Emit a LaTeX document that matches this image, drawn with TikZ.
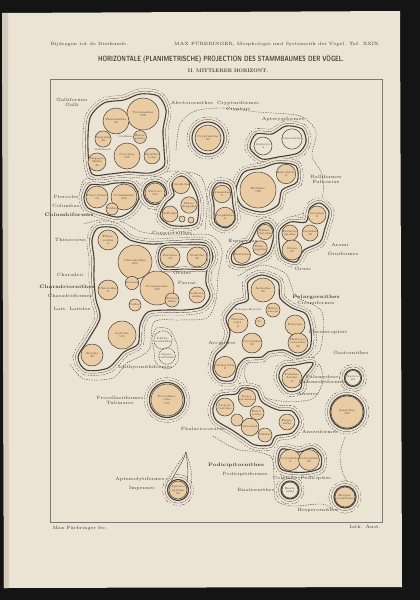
\documentclass[tikz,border=0pt]{standalone}
\usepackage{fontspec}
\usepackage{graphicx}
\usepackage{xcolor}
\usetikzlibrary{positioning}

\definecolor{paper}{RGB}{235,228,212}
\definecolor{falz}{RGB}{212,203,188}
\definecolor{sand}{RGB}{233,204,163}
\definecolor{ink}{RGB}{70,62,55}

% Umriss einer Gruppe: dicke Linie, feine Linie, punktierte Linie
\newcommand{\umriss}[1]{%
  \draw[ink, line width=10.4pt, dash pattern=on 1.2pt off 1.2pt] #1;
  \draw[paper, line width=9.6pt] #1;
  \draw[ink, line width=5.4pt] #1;
  \draw[paper, line width=4.8pt] #1;
  \fill[paper] #1;
  \draw[ink, line width=1.1pt] #1;}
% innere Untergruppe
\newcommand{\teil}[1]{%
  \draw[ink, line width=4.6pt] #1;
  \draw[paper, line width=4pt] #1;
  \draw[ink, line width=0.9pt] #1;}

\begin{document}
\begin{tikzpicture}[x=1pt, y=-1pt,
  fam/.style={circle, draw=ink, line width=0.5pt, fill=sand, inner sep=0pt, align=center, text=ink, font=\fontsize{2.9}{3.2}\selectfont},
  fossil/.style={fam, fill=paper},
  lost/.style={fam, fill=none, dash pattern=on 0.8pt off 0.8pt},
  lbl/.style={text=ink, inner sep=0.3pt, font=\fontsize{4.6}{5}\selectfont},
  klein/.style={text=ink, inner sep=0.2pt, font=\fontsize{2.8}{3}\selectfont},
  grp/.style={lbl, font=\fontsize{4.9}{5.5}\selectfont\bfseries},
  ornith/.style={draw=ink, line width=0.4pt, dash pattern=on 1.3pt off 1.2pt}]
  \useasboundingbox (0,0) rectangle (420,600);

  % Blatt
  \fill[black!92] (0,0) rectangle (420,600);
  \fill[paper] (2,13) -- (400,11) -- (402,587) -- (4,588) -- cycle;
  \fill[falz] (2,13) -- (8,13) -- (9,588) -- (4,588) -- cycle;
  \draw[ink!70, line width=0.5pt] (50,79) rectangle (382,522);

  % Kopf
  \node[lbl, anchor=west] (beitr) at (50,44) {Bijdragen tot de Dierkunde.};
  \node[lbl, anchor=east] (autor) at (381,44) {MAX FÜRBRINGER, Morphologie und Systematik der Vögel. Taf. XXIX.};
  \node[text=ink, inner sep=0pt] (titel) at (221,59) {\resizebox{246pt}{6.4pt}{\sffamily\bfseries HORIZONTALE (PLANIMETRISCHE) PROJECTION DES STAMMBAUMES DER VÖGEL.}};
  \node[text=ink, inner sep=0pt] (untertitel) at (228,71) {\resizebox{80pt}{3.6pt}{\bfseries II. MITTLERER HORIZONT.}};

  % Ornithes-Grenzen
  \draw[ornith] plot[smooth] coordinates {(176,150) (180,124) (195,111) (222,108) (258,112) (300,116) (316,132) (312,156) (322,174) (322,198) (306,212) (286,218)};
  \draw[ornith] plot[smooth] coordinates {(80,200) (84,180) (110,175) (150,176) (172,171) (200,176) (207,200) (205,230)};
  \draw[ornith] plot[smooth] coordinates {(84,224) (100,220) (122,222) (142,232) (172,235) (210,235) (222,250) (218,276) (216,300) (207,318) (180,320) (154,322) (149,350) (127,363) (113,378) (84,379) (70,364)};
  \draw[ornith] plot[smooth] coordinates {(238,276) (262,265) (286,274) (296,296) (322,312) (320,350) (304,360)};
  \draw[ornith] plot[smooth cycle] coordinates {(244,372) (256,357) (286,355) (316,361) (323,380) (312,399) (280,401) (255,393)};
  \draw[ornith] plot[smooth] coordinates {(213,436) (236,449) (258,452) (272,458) (274,480) (276,500) (292,506) (322,504) (334,510)};
  \draw[ornith] plot[smooth] coordinates {(345,437) (340,455) (343,474) (350,485)};

  % Galliformes
  \umriss{plot[smooth cycle] coordinates {(88,150) (90,118) (104,103) (124,100) (140,94) (158,96) (166,110) (163,130) (164,150) (164,166) (150,173) (128,172) (110,174) (92,174)}}
  \node[fam, minimum size=32pt] (tetraon) at (143,114) {Tetraonidae\\178};
  \node[fam, minimum size=26pt] (phasian) at (116,121) {Phasianidae\\91};
  \node[fam, minimum size=16pt] (numida) at (103,139) {Numidae\\35};
  \node[fam, minimum size=12pt] (meleagr) at (140,137) {Melea-\\gridae};
  \node[fam, minimum size=26pt] (crax) at (127,156) {Cracidae\\105};
  \node[fam, minimum size=14pt] (opistho) at (152,156) {Opistho-\\comi};
  \node[fam, minimum size=18pt] (megapod) at (97,162) {Megapo-\\diidae\\30};
  \node[klein] (gallinae) at (126,137) {Gallinae};
  \node[klein] (gallinacei) at (103,150) {Gallinacei};

  % Crypturi, Apteryges
  \umriss{(208,138) circle[radius=16]}
  \node[fam, minimum size=26pt] (crypt) at (208,138) {Crypturidae\\60};
  \umriss{plot[smooth cycle] coordinates {(250,148) (256,134) (272,134) (286,126) (302,129) (306,142) (298,153) (278,157) (262,159)}}
  \node[fossil, minimum size=18pt] (apteryx) at (263,146) {Apteryx\\4};
  \node[fossil, minimum size=20pt] (dinornis) at (292,139) {Dinornithes};

  % Ralliformes
  \umriss{plot[smooth cycle] coordinates {(236,190) (244,172) (262,168) (278,163) (296,166) (297,182) (282,190) (278,205) (262,212) (242,206)}}
  \node[fam, minimum size=36pt] (rallid) at (258,190) {Rallidae\\188};
  \node[fam, minimum size=16pt] (heliorn) at (286,174) {Heliornith.\\4};
  \umriss{plot[smooth cycle] coordinates {(212,192) (218,183) (230,186) (233,205) (235,220) (226,228) (215,222) (214,205)}}
  \node[fam, minimum size=16pt] (aramid) at (222,194) {Aramidae\\2};
  \node[fam, minimum size=16pt] (psophia) at (225,217) {Psophiidae\\6};

  % Grues
  \umriss{plot[smooth cycle] coordinates {(232,254) (242,244) (250,242) (259,226) (268,223) (274,232) (269,252) (256,260) (244,265) (233,263)}}
  \node[fam, minimum size=14pt] (rhino) at (265,232) {Rhino-\\chetidae};
  \node[fam, minimum size=14pt] (euryp) at (260,248) {Eury-\\pygidae};
  \node[fam, minimum size=16pt] (mesit) at (242,255) {Mesitidae};
  \umriss{plot[smooth cycle] coordinates {(279,232) (290,222) (306,222) (310,208) (320,203) (329,212) (325,228) (320,242) (304,250) (296,262) (282,256)}}
  \node[fam, minimum size=16pt] (dichol) at (290,233) {Dicholo-\\phidae};
  \node[fam, minimum size=16pt] (grus) at (310,233) {Gruidae\\16};
  \node[fam, minimum size=20pt] (otis) at (292,250) {Grues\\20};
  \node[fam, minimum size=18pt] (cariama) at (317,215) {Cariama\\2};

  % Columbae, Psittaci, Coccyges
  \umriss{plot[smooth cycle] coordinates {(84,197) (90,185) (104,185) (116,183) (132,184) (139,197) (132,210) (119,217) (104,214) (88,208)}}
  \node[fam, minimum size=22pt] (pterocl) at (97,197) {Pteroclidae\\16};
  \node[fam, minimum size=26pt] (columb) at (124,197) {Columbidae\\400};
  \node[fam, minimum size=12pt] (didus) at (112,209) {Didus};
  \umriss{(155,193) circle[radius=11.5]}
  \node[fam, minimum size=20pt] (psitt) at (155,193) {Psittaci\\400};
  \umriss{plot[smooth cycle] coordinates {(172,184) (181,176) (190,182) (198,200) (197,222) (186,226) (170,225) (160,216) (166,203) (174,195)}}
  \node[fam, minimum size=14pt] (cuculi) at (181,185) {Cuculidae};
  \node[fam, minimum size=14pt] (musoph) at (189,205) {Muso-\\phagidae};
  \node[fam, minimum size=16pt] (galbul) at (170,214) {Galbulae};
  \node[fam, minimum size=6pt] (bucco) at (182,219) {};
  \node[fam, minimum size=6pt] (capito) at (191,220) {};

  % Charadriiformes
  \umriss{plot[smooth cycle] coordinates {(92,240) (98,228) (115,228) (130,240) (150,244) (175,243) (205,243) (213,257) (207,270) (206,283) (210,296) (202,307) (185,310) (168,310) (148,312) (140,325) (138,344) (124,352) (108,368) (86,370) (78,357) (88,340) (100,318) (96,300) (94,280) (94,258)}}
  \teil{plot[smooth cycle] coordinates {(158,257) (163,246) (185,245) (206,246) (210,258) (205,269) (185,269) (163,269)}}
  \node[fam, minimum size=20pt] (thino) at (108,240) {Thino-\\coridae\\4};
  \node[fam, minimum size=34pt] (charadr) at (135,262) {Charadriidae\\200};
  \node[fam, minimum size=34pt] (scolop) at (157,288) {Scolopacidae\\180};
  \node[fam, minimum size=12pt] (dromas) at (132,283) {Dromas};
  \node[fam, minimum size=20pt] (chionis) at (108,290) {Chionidae\\2};
  \node[fam, minimum size=14pt] (glareol) at (172,300) {Glareo-\\lidae};
  \node[fam, minimum size=20pt] (parrid) at (170,257) {Parridae\\12};
  \node[fam, minimum size=20pt] (otidid) at (197,257) {Otididae\\30};
  \node[fam, minimum size=16pt] (oedicn) at (197,295) {Oedicne-\\midae};
  \node[fam, minimum size=12pt] (ibidor) at (135,305) {Ibidor.};
  \node[fam, minimum size=28pt] (larid) at (122,335) {Laridae\\100};
  \node[fam, minimum size=22pt] (alcid) at (92,355) {Alcidae\\30};

  % Ichthyornithes
  \draw[ornith] plot[smooth cycle] coordinates {(152,338) (157,328) (170,330) (177,345) (178,361) (168,369) (156,363) (154,350)};
  \node[lost, minimum size=16pt] (ichthy) at (163,340) {Ichthy-\\ornithidae};
  \node[lost, minimum size=16pt] (apatorn) at (167,356) {Apato-\\rnithidae};

  % Procellariiformes
  \umriss{(167,400) circle[radius=17.5]}
  \node[fam, minimum size=32pt] (procell) at (167,400) {Procellari-\\idae\\100};

  % Ciconiiformes
  \umriss{plot[smooth cycle] coordinates {(248,282) (262,275) (278,282) (280,298) (292,308) (306,314) (311,330) (310,348) (298,356) (284,350) (268,352) (262,357) (246,358) (238,366) (233,380) (220,380) (213,370) (216,355) (226,345) (230,332) (226,318) (236,305) (248,300)}}
  \node[fam, minimum size=24pt] (ardeid) at (263,290) {Ardeidae\\90};
  \node[fam, minimum size=20pt] (scopid) at (238,323) {Phoeni-\\copt.\\6};
  \node[fam, minimum size=10pt] (scopus) at (260,322) {Sc.};
  \node[fam, minimum size=14pt] (balaen) at (273,310) {Balae-\\niceps};
  \node[fam, minimum size=20pt] (ciconi) at (252,343) {Ciconiidae\\20};
  \node[fam, minimum size=20pt] (pelecan) at (295,325) {Pelecani};
  \node[fam, minimum size=20pt] (phaeth) at (298,343) {Phalacro-\\coracidae\\30};
  \node[fam, minimum size=20pt] (cathart) at (225,367) {Cathartidae\\8};

  % Anseriformes
  \umriss{plot[smooth cycle, tension=0.6] coordinates {(279,378) (283,367) (295,365) (313,363) (303,378) (300,389) (288,391)}}
  \node[fam, minimum size=20pt] (palam) at (292,378) {Palame-\\deidae\\3};
  \umriss{(353,378) circle[radius=8.5]}
  \node[fossil, minimum size=15pt] (gastor) at (353,378) {Gastor-\\nis};
  \umriss{(347,412) circle[radius=17]}
  \node[fam, minimum size=32pt] (anatid) at (347,412) {Anatidae\\180};

  % Steganopodes
  \umriss{plot[smooth cycle] coordinates {(213,408) (220,396) (236,394) (242,388) (256,390) (262,402) (278,410) (292,411) (299,422) (292,433) (276,436) (270,445) (255,445) (244,438) (232,430) (216,420)}}
  \node[fam, minimum size=18pt] (accip) at (225,407) {Serpen-\\tariidae};
  \node[fam, minimum size=16pt] (vultur) at (247,398) {Gypo-\\geranidae};
  \node[fam, minimum size=14pt] (falcon) at (257,413) {Falco-\\nidae};
  \node[fam, minimum size=16pt] (pandion) at (250,427) {Pelecanid.};
  \node[fam, minimum size=14pt] (sula) at (265,435) {Sulidae};
  \node[fam, minimum size=16pt] (fregata) at (287,422) {Frega-\\tidae};
  \node[fam, minimum size=12pt] (plotus) at (237,420) {};

  % Podicipitiformes, Hesperornithes
  \umriss{plot[smooth cycle] coordinates {(278,460) (282,449) (299,452) (312,448) (321,456) (320,468) (307,472) (292,472) (281,469)}}
  \node[fam, minimum size=18pt] (colymb) at (290,460) {Colymbidae\\4};
  \node[fam, minimum size=18pt] (podicip) at (309,460) {Podicipidae\\25};
  \umriss{(290,490) circle[radius=9]}
  \node[fossil, minimum size=16pt] (enali) at (290,490) {Enali-\\ornis};
  \umriss{(345,497) circle[radius=11]}
  \node[fam, minimum size=20pt] (hesper) at (345,497) {Hesper-\\ornithidae};

  % Aptenodytiformes
  \umriss{(178,490) circle[radius=10.5]}
  \draw[ink, line width=0.4pt] (171,482) .. controls (176,470) and (183,463) .. (186,452);
  \draw[ink, line width=0.4pt] (187,482) .. controls (189,470) and (187,462) .. (186,452);
  \draw[ornith] (166,486) .. controls (171,470) and (181,462) .. (186,452);
  \draw[ornith] (191,485) .. controls (193,470) and (189,462) .. (186,452);
  \node[fam, minimum size=18pt] (apteno) at (178,490) {Apteno-\\dytidae\\20};

  % Beschriftung
  \node[lbl] (galliform) at (72,100) {Galliformes};
  \node[lbl, below=1pt of galliform] (galli) {Galli};
  \node[lbl] (alector) at (192,103) {Alectorornithes};
  \node[lbl] (cryptform) at (238,103) {Crypturiformes};
  \node[lbl, below=1pt of cryptform] (crypturi) {Crypturi};
  \node[lbl] (apteryg) at (283,119) {Apterygiformes};
  \node[lbl] (ralliform) at (326,177) {Ralliformes};
  \node[lbl, below=1pt of ralliform] (fulic) {Fulicariae};
  \node[lbl] (pterocles) at (66,197) {Pterocles};
  \node[lbl] (columbae) at (66,206) {Columbae};
  \node[grp] (columbform) at (69,215) {Columbiformes};
  \node[lbl] (coraci) at (172,233) {Coraciornithes};
  \node[lbl] (eurypyg) at (243,241) {Eurypygae};
  \node[lbl] (arami) at (340,245) {Arami};
  \node[lbl] (gruiform) at (343,254) {Gruiformes};
  \node[lbl] (grues) at (303,269) {Grues};
  \node[lbl] (thinocor) at (73,240) {Thinocorus ?};
  \node[lbl] (charadrii) at (70,275) {Charadrii};
  \node[grp] (charorn) at (67,287) {Charadriornithes};
  \node[lbl] (charform) at (70,296) {Charadriiformes};
  \node[lbl] (lari) at (72,309) {Lari. Laridae};
  \node[lbl] (otides) at (182,273) {Otides};
  \node[lbl] (parrae) at (187,283) {Parrae};
  \node[lbl] (ichthform) at (145,367) {Ichthyornithiformes};
  \node[lbl] (procform) at (120,398) {Procellariiformes};
  \node[lbl, below=1pt of procform] (tubin) {Tubinares};
  \node[grp] (pelarg) at (316,297) {Pelargornithes};
  \node[lbl, below=1pt of pelarg] (ciconform) {Ciconiiformes};
  \node[klein] (herodii) at (248,310) {Pelargo-Herodii};
  \node[lbl] (phoenic) at (328,332) {Phoenicopteri};
  \node[lbl] (accipit) at (222,343) {Accipitres};
  \node[lbl] (gastorn) at (351,353) {Gastornithes};
  \node[lbl] (palamed) at (322,377) {Palamedeae};
  \node[lbl, below=1pt of palamed] (palamform) {Palamedeiformes};
  \node[lbl] (anseres) at (308,394) {Anseres};
  \node[lbl] (anserform) at (320,432) {Anseriformes};
  \node[lbl] (phalacro) at (203,429) {Phalacrocoraces};
  \node[grp] (podorn) at (236,465) {Podicipitornithes};
  \node[lbl] (podform) at (245,474) {Podicipitiformes};
  \node[lbl] (colymbi) at (302,478) {Colymbi. Podicipites};
  \node[lbl] (enaliorn) at (256,490) {Enaliornithes};
  \node[lbl] (hesperorn) at (318,510) {Hesperornithes};
  \node[lbl] (aptenform) at (140,479) {Aptenodytiformes};
  \node[lbl] (impennes) at (142,488) {Impennes};

  % Fuss
  \node[lbl, anchor=west] (fec) at (52,528) {Max Fürbringer fec.};
  \node[lbl, anchor=east] (lith) at (381,527) {Lith. Anst.};
\end{tikzpicture}
\end{document}
